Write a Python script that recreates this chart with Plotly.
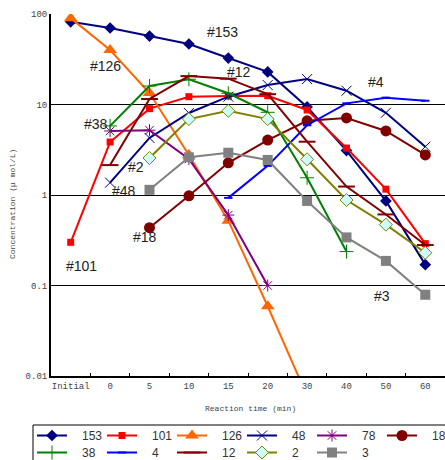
import plotly.graph_objects as go

categories = ["Initial", "0", "5", "10", "15", "20", "30", "40", "50", "60"]

s153 = [82, 70, 57, 46.6, 32.6, 22.9, 9.4, 3.1, 0.86, 0.17]
s101 = [0.30, 3.85, 9.0, 12.2, 12.4, 12.5, 8.7, 3.3, 1.16, 0.29]
s126 = [90, 40, 13.4, 2.77, 0.52, 0.059, 0.006, None, None, None]
s48 = [None, 1.37, 4.27, 8.06, 12.2, 16.4, 19.1, 14.2, 8.1, 3.42]
s78 = [None, 5.1, 5.2, 2.5, 0.60, 0.10, None, None, None, None]
s18 = [None, None, 0.435, 0.98, 2.27, 4.05, 6.6, 7.1, 5.1, 2.77]
s38 = [None, 5.8, 16, 19, 13.3, 8.2, 1.55, 0.237, None, None]
s4 = [None, None, None, None, 0.93, 2.1, 5.9, 10.3, 11.9, 11.0]
s12 = [None, 2.14, 11.5, 20.6, 19.3, 13.0, 3.88, 1.24, 0.61, 0.28]
s2 = [None, None, 2.56, 6.9, 8.5, 6.9, 2.48, 0.88, 0.47, 0.23]
s3 = [None, None, 1.14, 2.61, 2.93, 2.44, 0.86, 0.34, 0.187, 0.079]

y_ticks = [100, 10, 1, 0.1, 0.01]
y_tick_text = ["100", "10", "1", "0.1", "0.01"]

labels = ["#153", "#126", "#12", "#4", "#38", "#2", "#48", "#18", "#101", "#3"]
label_px = [(222.5, 32), (105.5, 66), (238.5, 72), (376, 82), (95.5, 124.5),
            (136, 167), (123.5, 191), (145, 237), (81.5, 266), (381.5, 296)]

W, H = 445, 460
L, T, B = 51, 14, 376
PW = W - L
PH = B - T

def px(x):
    return (x - L) / PW

def py(y):
    return (B - y) / PH

def cx(x):
    return x / W

def cy(y):
    return 1 - y / H

NB = "\u00a0\u00a0\u00a0"

series = [
    ("153", s153, dict(color="#000080", width=2), dict(symbol="diamond", size=9, color="#000080")),
    ("101", s101, dict(color="#FF0000", width=2), dict(symbol="square", size=7, color="#FF0000")),
    ("126", s126, dict(color="#FF6600", width=2), dict(symbol="triangle-up", size=12, color="#FF6600")),
    ("48", s48, dict(color="#000080", width=2), dict(symbol="x-thin-open", size=10, color="#000080", line=dict(width=1, color="#000080"))),
    ("78", s78, dict(color="#800080", width=2), dict(symbol="asterisk-open", size=10, color="#800080", line=dict(width=1, color="#800080"))),
    ("18", s18, dict(color="#800000", width=2), dict(symbol="circle", size=11, color="#800000")),
    ("38", s38, dict(color="#008000", width=2), dict(symbol="cross-thin-open", size=10, color="#008000", line=dict(width=1, color="#008000"))),
    ("4", s4, dict(color="#0000FF", width=2), dict(symbol="line-ew-open", size=6, color="#0000FF", line=dict(width=2, color="#0000FF"))),
    ("12", s12, dict(color="#800000", width=2), dict(symbol="line-ew-open", size=12, color="#800000", line=dict(width=2, color="#800000"))),
    ("2", s2, dict(color="#808000", width=2), dict(symbol="diamond", size=10, color="#CCFFFF", line=dict(width=1, color="#808000"))),
    ("3", s3, dict(color="#808080", width=2), dict(symbol="square", size=10, color="#808080")),
]

leg_common = dict(
    orientation="h", xanchor="left", yanchor="top",
    xref="container", yref="container", itemwidth=30,
    font=dict(family="Liberation Sans, Arial", size=12, color="#333333"),
    bgcolor="rgba(0,0,0,0)", borderwidth=0,
)

fig = go.Figure()
legends = {}
for i, (name, vals, ln, mk) in enumerate(series):
    lid = "legend" if i == 0 else "legend%d" % (i + 1)
    row, col = divmod(i, 6)
    legends[lid] = dict(x=cx(32 + 70 * col), y=cy(421 + 17 * row), **leg_common)
    fig.add_trace(go.Scatter(
        x=categories, y=vals, name=NB + name, mode="lines+markers",
        line=ln, marker=mk, legend=lid, connectgaps=False,
    ))

annotations = []
for txt, (ax, ay) in zip(labels, label_px):
    annotations.append(dict(
        text=txt, x=px(ax), y=py(ay), xref="paper", yref="paper",
        showarrow=False, xanchor="center", yanchor="middle",
        font=dict(family="Liberation Sans, Arial", size=14, color="#222222"),
    ))
annotations.append(dict(
    text="Concentration (\u03bc mol/L)", x=px(12), y=py(204), xref="paper", yref="paper",
    showarrow=False, textangle=-90, xanchor="center", yanchor="middle",
    font=dict(family="Liberation Mono", size=8, color="#444444"),
))
annotations.append(dict(
    text="Reaction time (min)", x=px(250), y=py(408), xref="paper", yref="paper",
    showarrow=False, xanchor="center", yanchor="middle",
    font=dict(family="Liberation Mono", size=8, color="#444444"),
))

fig.update_layout(
    width=W, height=H, autosize=False,
    margin=dict(l=L, r=0, t=T, b=H - B, pad=0, autoexpand=False),
    paper_bgcolor="white", plot_bgcolor="white",
    showlegend=True,
    annotations=annotations,
    shapes=[dict(
        type="rect", xref="paper", yref="paper",
        x0=px(33), x1=px(470), y0=py(425), y1=py(480),
        line=dict(color="black", width=1), fillcolor="rgba(0,0,0,0)",
    )],
    **legends,
)

fig.update_xaxes(
    type="category", range=[-0.5, 9.5], tickson="boundaries",
    ticks="inside", ticklen=3, tickcolor="black", tickangle=0,
    showline=True, linecolor="black", linewidth=2,
    showgrid=False, zeroline=False,
    tickfont=dict(family="Liberation Mono", size=9, color="#444444"),
)
fig.update_yaxes(
    type="log", range=[-2, 2],
    tickvals=y_ticks, ticktext=y_tick_text, ticks="",
    showline=True, linecolor="black", linewidth=2,
    showgrid=True, gridcolor="black", gridwidth=1, zeroline=False,
    tickfont=dict(family="Liberation Mono", size=9, color="#444444"),
)

fig.write_html(
    "out.html",
    config={"displayModeBar": False},
    post_script="document.body.style.margin='0';document.body.style.overflow='hidden';",
)
